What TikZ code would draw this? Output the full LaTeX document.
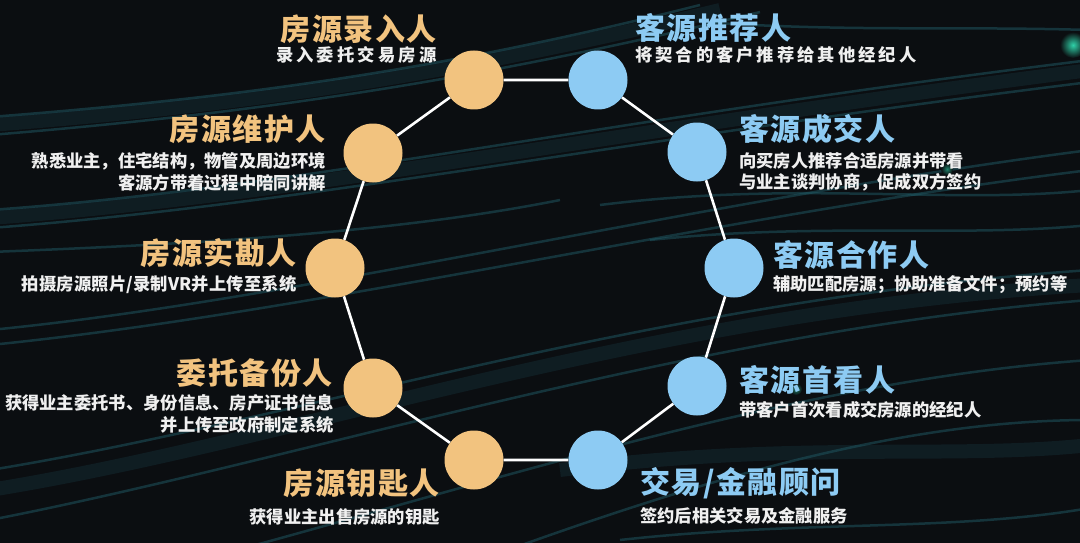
\documentclass[tikz,border=0pt]{standalone}
\usepackage{fontspec}
\newfontfamily\cjk{Noto Sans CJK SC}
% extra room between Chinese characters
\XeTeXinterchartokenstate=1
\newXeTeXintercharclass\hanclass
\newcount\hcode
\hcode="3000
\loop \XeTeXcharclass\hcode=\hanclass \advance\hcode by 1 \ifnum\hcode<"A000 \repeat
\hcode="FF00
\loop \XeTeXcharclass\hcode=\hanclass \advance\hcode by 1 \ifnum\hcode<"FF70 \repeat
\newdimen\hangap
\newcommand{\setgap}[1]{\hangap=#1\relax}
\XeTeXinterchartoks\hanclass\hanclass={\hskip\hangap\relax}
\XeTeXinterchartoks\hanclass 0={\hskip\hangap\relax}
\XeTeXinterchartoks 0\hanclass={\hskip\hangap\relax}
\definecolor{bg}{HTML}{0B0E11}
\definecolor{wavecol}{HTML}{1F5A66}
\definecolor{fangcol}{HTML}{F2C37F}
\definecolor{kecol}{HTML}{8DCBF3}
\definecolor{glowcol}{HTML}{2FD1A8}
\tikzset{
  fang/.style={circle,fill=fangcol,minimum size=59pt,inner sep=0pt},
  ke/.style={circle,fill=kecol,minimum size=59pt,inner sep=0pt},
  link/.style={draw=white,line width=2.6pt},
  ttl/.style={inner sep=0pt,font={\cjk\bfseries\fontsize{30}{34}\selectfont\setgap{1.5pt}}},
  desc/.style={inner sep=0pt,text=white!94!black,font={\cjk\bfseries\fontsize{17.3}{21.5}\selectfont\setgap{#1pt}}},
  desc/.default=0,
  wave/.style={draw=wavecol,line width=2.5pt,opacity=0.5},
  band/.style={draw=wavecol,line width=14pt,opacity=0.2}
}

\begin{document}
\begin{tikzpicture}[x=1pt,y=-1pt]
  \useasboundingbox (0,0) rectangle (1080,543);
  \fill[bg] (0,0) rectangle (1080,543);
% background waves
  \draw[band] (-10,125) .. controls (250,105) and (450,75) .. (720,10);
  \draw[wave] (-10,117) .. controls (250,97) and (450,68) .. (700,5);
  \draw[wave] (-10,135) .. controls (260,113) and (480,80) .. (760,12);
  \draw[band] (-10,218) .. controls (300,195) and (620,130) .. (1090,70);
  \draw[wave] (-10,210) .. controls (300,188) and (600,120) .. (1090,60);
  \draw[wave] (-10,228) .. controls (300,205) and (620,140) .. (1090,82);
  \draw[wave] (-10,252) .. controls (200,244) and (400,232) .. (560,200);
  \draw[wave] (-10,330) .. controls (300,300) and (700,200) .. (1090,150);
  \draw[wave] (-10,345) .. controls (320,312) and (720,215) .. (1090,170);
  \draw[band] (-10,490) .. controls (300,440) and (650,310) .. (1090,285);
  \draw[wave] (-10,470) .. controls (300,420) and (650,300) .. (1090,270);
  \draw[wave] (-10,520) .. controls (300,460) and (700,330) .. (1090,300);
  \draw[wave] (200,560) .. controls (500,480) and (800,380) .. (1090,360);
  \draw[wave] (480,560) .. controls (700,480) and (900,420) .. (1090,420);
  \draw[wave] (600,205) .. controls (800,180) and (950,205) .. (1090,190);
  \draw[wave] (650,240) .. controls (820,222) and (960,238) .. (1090,225);
  \draw[wave] (700,22) .. controls (850,32) and (950,26) .. (1090,30);
  \draw[wave] (620,540) .. controls (800,520) and (950,532) .. (1090,508);
  \draw[band] (560,470) .. controls (800,440) and (950,460) .. (1090,445);
  \shade[inner color=glowcol,outer color=bg] (1073,45) circle (13);
  \shade[inner color=glowcol!60!bg,outer color=bg] (796,389) circle (6);
  \shade[inner color=glowcol!60!bg,outer color=bg] (947,169) circle (6);
% circles
  \node[fang] (luru) at (474,80) {};
  \node[fang] (weihu) at (373,153) {};
  \node[fang] (shikan) at (335,268) {};
  \node[fang] (beifen) at (373,388) {};
  \node[fang] (yaoshi) at (474,460) {};
  \node[ke] (tuijian) at (598,80) {};
  \node[ke] (chengjiao) at (697,152) {};
  \node[ke] (hezuo) at (734,268) {};
  \node[ke] (shoukan) at (697,386) {};
  \node[ke] (guwen) at (598,460) {};
  \draw[link] (luru) -- (tuijian) -- (chengjiao) -- (hezuo) -- (shoukan) -- (guwen)
    -- (yaoshi) -- (beifen) -- (shikan) -- (weihu) -- (luru);
% left labels
  \node[ttl,text=fangcol,anchor=east] (tluru) at (437,29) {房源录入人};
  \node[desc=3.2,anchor=east] (dluru) at (437,55) {录入委托交易房源};
  \node[ttl,text=fangcol,anchor=east] (tweihu) at (326,129) {房源维护人};
  \node[desc,anchor=east,align=right] (dweihu) at (326,172) {熟悉业主，住宅结构，物管及周边环境\\客源方带着过程中陪同讲解};
  \node[ttl,text=fangcol,anchor=east] (tshikan) at (297,253) {房源实勘人};
  \node[desc=0.2,anchor=east] (dshikan) at (297,285) {拍摄房源照片/录制VR并上传至系统};
  \node[ttl,text=fangcol,anchor=east] (tbeifen) at (333,373) {委托备份人};
  \node[desc,anchor=east,align=right] (dbeifen) at (334,414) {获得业主委托书、身份信息、房产证书信息\\并上传至政府制定系统};
  \node[ttl,text=fangcol,anchor=east] (tyaoshi) at (440,483) {房源钥匙人};
  \node[desc,anchor=east] (dyaoshi) at (440,517) {获得业主出售房源的钥匙};
% right labels
  \node[ttl,text=kecol,anchor=west] (ttuijian) at (635,28) {客源推荐人};
  \node[desc=3,anchor=west] (dtuijian) at (635,55) {将契合的客户推荐给其他经纪人};
  \node[ttl,text=kecol,anchor=west] (tchengjiao) at (739,129) {客源成交人};
  \node[desc,anchor=west,align=left] (dchengjiao) at (739,172) {向买房人推荐合适房源并带看\\与业主谈判协商，促成双方签约};
  \node[ttl,text=kecol,anchor=west] (thezuo) at (773,255) {客源合作人};
  \node[desc,anchor=west] (dhezuo) at (773,285) {辅助匹配房源；协助准备文件；预约等};
  \node[ttl,text=kecol,anchor=west] (tshoukan) at (739,380) {客源首看人};
  \node[desc,anchor=west] (dshoukan) at (739,410) {带客户首次看成交房源的经纪人};
  \node[ttl,text=kecol,anchor=west] (tguwen) at (640,483) {交易/金融顾问};
  \node[desc,anchor=west] (dguwen) at (640,516) {签约后相关交易及金融服务};
\end{tikzpicture}
\end{document}
